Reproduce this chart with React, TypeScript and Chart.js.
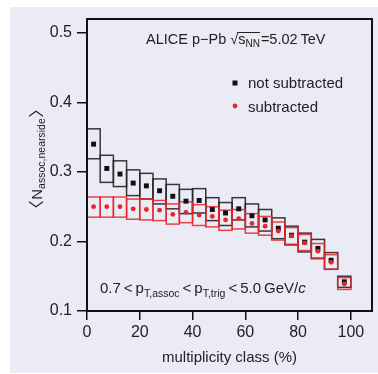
import React, { useEffect, useRef } from 'react';
import { Chart, registerables } from 'chart.js';

Chart.register(...registerables);

const binCenters = [2.5, 7.5, 12.5, 17.5, 22.5, 27.5, 32.5, 37.5, 42.5, 47.5, 52.5, 57.5, 62.5, 67.5, 72.5, 77.5, 82.5, 87.5, 92.5, 97.5];
const binHalfWidth = 2.5;
const notSubtracted = [0.340, 0.305, 0.297, 0.284, 0.280, 0.273, 0.265, 0.258, 0.259, 0.246, 0.241, 0.247, 0.237, 0.231, 0.219, 0.209, 0.199, 0.190, 0.173, 0.142];
const notSubtractedSysLow = [0.319, 0.285, 0.279, 0.266, 0.261, 0.254, 0.247, 0.240, 0.241, 0.230, 0.223, 0.231, 0.221, 0.215, 0.204, 0.195, 0.185, 0.176, 0.160, 0.134];
const notSubtractedSysHigh = [0.362, 0.324, 0.316, 0.303, 0.298, 0.290, 0.282, 0.275, 0.276, 0.263, 0.256, 0.263, 0.254, 0.246, 0.234, 0.222, 0.212, 0.203, 0.184, 0.150];
const subtracted = [0.250, 0.250, 0.250, 0.247, 0.246, 0.245, 0.239, 0.242, 0.238, 0.236, 0.231, 0.233, 0.226, 0.222, 0.215, 0.208, 0.198, 0.186, 0.170, 0.139];
const subtractedSysLow = [0.235, 0.235, 0.235, 0.232, 0.231, 0.230, 0.225, 0.227, 0.223, 0.221, 0.216, 0.218, 0.212, 0.209, 0.202, 0.196, 0.187, 0.175, 0.160, 0.131];
const subtractedSysHigh = [0.264, 0.264, 0.264, 0.261, 0.261, 0.259, 0.254, 0.257, 0.253, 0.250, 0.245, 0.246, 0.240, 0.236, 0.228, 0.220, 0.210, 0.197, 0.181, 0.148];

const seriesLabels = ['not subtracted', 'subtracted'];
const xTitle = 'multiplicity class (%)';

const FONT = '"Liberation Sans", Arial, sans-serif';
const TEXT = '#222222';
const BLACK = '#111111';
const RED = '#e8232b';
const BG = '#ebebf6';

type Part = { t: string; size: number; dy?: number; italic?: boolean };

function drawRich(ctx: CanvasRenderingContext2D, x: number, y: number, parts: Part[], measureOnly = false): number {
  let cx = x;
  for (const p of parts) {
    ctx.font = `${p.italic ? 'italic ' : ''}${p.size}px ${FONT}`;
    const w = ctx.measureText(p.t).width;
    if (!measureOnly) {
      ctx.fillText(p.t, cx, y + (p.dy || 0));
    }
    cx += w;
  }
  return cx - x;
}

const boxesPlugin = {
  id: 'sysBoxes',
  beforeDatasetsDraw(chart: any) {
    const { ctx, scales } = chart;
    const xs = scales.x;
    const ys = scales.y;
    const drawBoxes = (low: number[], high: number[], color: string) => {
      ctx.save();
      ctx.strokeStyle = color;
      ctx.lineWidth = 1.5;
      binCenters.forEach((c, i) => {
        const x0 = xs.getPixelForValue(c - binHalfWidth);
        const x1 = xs.getPixelForValue(c + binHalfWidth);
        const y0 = ys.getPixelForValue(high[i]);
        const y1 = ys.getPixelForValue(low[i]);
        ctx.strokeRect(x0, y0, x1 - x0, y1 - y0);
      });
      ctx.restore();
    };
    drawBoxes(notSubtractedSysLow, notSubtractedSysHigh, 'rgba(35,35,35,0.9)');
    drawBoxes(subtractedSysLow, subtractedSysHigh, 'rgba(232,35,43,0.85)');
  },
};

const bgPlugin = {
  id: 'bg',
  beforeDraw(chart: any) {
    const { ctx, width, height } = chart;
    ctx.save();
    ctx.fillStyle = '#ffffff';
    ctx.fillRect(0, 0, width, height);
    ctx.fillStyle = BG;
    ctx.fillRect(10, 7, width - 10, height - 8);
    ctx.restore();
  },
};

const decorPlugin = {
  id: 'decor',
  afterDraw(chart: any) {
    const { ctx, chartArea } = chart;
    ctx.save();
    // frame
    ctx.strokeStyle = BLACK;
    ctx.lineWidth = 2;
    ctx.strokeRect(chartArea.left, chartArea.top, chartArea.right - chartArea.left, chartArea.bottom - chartArea.top);

    ctx.fillStyle = TEXT;
    ctx.textBaseline = 'alphabetic';
    ctx.textAlign = 'left';

    // top annotation
    let x = 146;
    const by = 44;
    x += drawRich(ctx, x, by, [{ t: 'ALICE p\u2212Pb ', size: 14.5 }]);
    x += drawRich(ctx, x, by, [{ t: '\u221A', size: 14.5 }]);
    const olStart = x;
    x += drawRich(ctx, x, by, [{ t: 's', size: 14.5 }]);
    x += drawRich(ctx, x, by, [{ t: 'NN', size: 10, dy: 3 }]);
    ctx.strokeStyle = TEXT;
    ctx.lineWidth = 1;
    ctx.beginPath();
    ctx.moveTo(olStart - 1, by - 11.5);
    ctx.lineTo(x, by - 11.5);
    ctx.stroke();
    x += 1;
    drawRich(ctx, x, by, [{ t: '=5.02\u2009TeV', size: 14.5 }]);

    // bottom annotation
    let bx = 100;
    const bby = 293;
    bx += drawRich(ctx, bx, bby, [{ t: '0.7\u2009<\u2009p', size: 15 }]);
    bx += drawRich(ctx, bx, bby, [{ t: 'T,assoc', size: 10.5, dy: 4 }]);
    bx += drawRich(ctx, bx, bby, [{ t: '\u2009<\u2009p', size: 15 }]);
    bx += drawRich(ctx, bx, bby, [{ t: 'T,trig', size: 10.5, dy: 4 }]);
    bx += drawRich(ctx, bx, bby, [{ t: '\u2009<\u20095.0\u2009GeV/', size: 15 }]);
    drawRich(ctx, bx, bby, [{ t: 'c', size: 15, italic: true }]);

    // legend
    ctx.fillStyle = BLACK;
    ctx.fillRect(232.5, 80.5, 5, 5);
    ctx.fillStyle = RED;
    ctx.beginPath();
    ctx.arc(235, 106, 2.4, 0, Math.PI * 2);
    ctx.fill();
    ctx.fillStyle = TEXT;
    drawRich(ctx, 248, 87.5, [{ t: seriesLabels[0], size: 15 }]);
    drawRich(ctx, 248, 111.5, [{ t: seriesLabels[1], size: 15 }]);

    // y title (rotated)
    ctx.save();
    ctx.translate(42, 159);
    ctx.rotate(-Math.PI / 2);
    const mainParts: Part[] = [
      { t: 'N', size: 15 },
      { t: 'assoc,nearside', size: 10.5, dy: 3 },
    ];
    const bw = 5;
    const gap = 2;
    const inner = drawRich(ctx, 0, 0, mainParts, true);
    const total = bw + gap + inner + gap + bw;
    let tx = -total / 2;
    ctx.strokeStyle = TEXT;
    ctx.lineWidth = 1.1;
    ctx.beginPath();
    ctx.moveTo(tx + bw, -13);
    ctx.lineTo(tx, -6);
    ctx.lineTo(tx + bw, 1);
    ctx.stroke();
    tx += bw + gap;
    tx += drawRich(ctx, tx, 0, mainParts);
    tx += gap;
    ctx.beginPath();
    ctx.moveTo(tx, -13);
    ctx.lineTo(tx + bw, -6);
    ctx.lineTo(tx, 1);
    ctx.stroke();
    ctx.restore();

    ctx.restore();
  },
};

export default function App() {
  const ref = useRef<HTMLCanvasElement | null>(null);
  useEffect(() => {
    if (!ref.current) return;
    const chart = new Chart(ref.current, {
      type: 'scatter',
      data: {
        datasets: [
          {
            label: seriesLabels[0],
            data: binCenters.map((x, i) => ({ x, y: notSubtracted[i] })),
            pointStyle: 'rect',
            pointRadius: 3.5,
            backgroundColor: BLACK,
            borderWidth: 0,
            order: 1,
          },
          {
            label: seriesLabels[1],
            data: binCenters.map((x, i) => ({ x, y: subtracted[i] })),
            pointStyle: 'circle',
            pointRadius: 2.4,
            backgroundColor: RED,
            borderWidth: 0,
            order: 0,
          },
        ],
      },
      options: {
        animation: false,
        responsive: false,
        layout: { padding: { left: 0, top: 19, right: 6, bottom: 0 } },
        plugins: { legend: { display: false }, tooltip: { enabled: false } },
        scales: {
          x: {
            type: 'linear',
            min: 0,
            max: 108,
            border: { display: false },
            grid: { drawOnChartArea: false, drawTicks: true, tickLength: 9, color: BLACK, lineWidth: 1.5 },
            ticks: {
              stepSize: 20,
              includeBounds: false,
              padding: 3,
              color: TEXT,
              font: { family: FONT, size: 16 },
              maxRotation: 0,
              callback: (v: any) => String(v),
            },
            title: {
              display: true,
              text: xTitle,
              color: TEXT,
              font: { family: FONT, size: 15 },
              padding: { top: 0, bottom: 7 },
            },
            afterFit: (s: any) => { s.height = 63; },
          },
          y: {
            type: 'linear',
            min: 0.1,
            max: 0.52,
            border: { display: false },
            grid: { drawOnChartArea: false, drawTicks: true, tickLength: 10, color: BLACK, lineWidth: 1.5 },
            ticks: {
              stepSize: 0.1,
              includeBounds: false,
              padding: 5,
              color: TEXT,
              font: { family: FONT, size: 16 },
              callback: (v: any) => Number(v).toFixed(1),
            },
            afterFit: (s: any) => { s.width = 87; },
          },
        },
      },
      plugins: [bgPlugin, boxesPlugin, decorPlugin],
    } as any);
    return () => chart.destroy();
  }, []);
  return (
    <div style={{ position: 'absolute', left: 0, top: 0, width: 378, height: 374 }}>
      <canvas ref={ref} width={378} height={374} style={{ display: 'block', width: 378, height: 374 }} />
    </div>
  );
}
